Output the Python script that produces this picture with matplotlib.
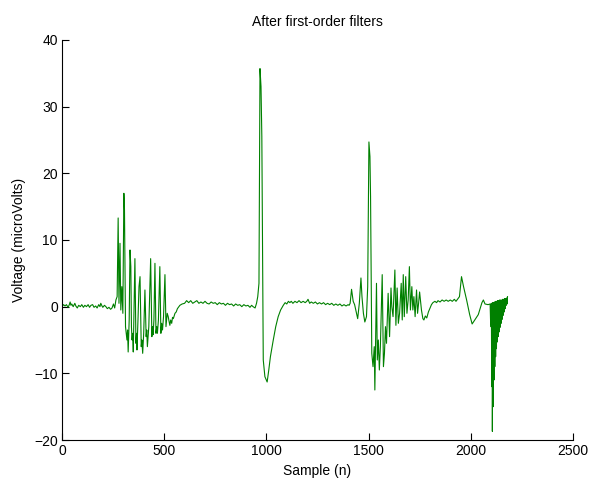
import numpy as np
import matplotlib
matplotlib.use("Agg")
import matplotlib.pyplot as plt

# Signal, one segment at a time: (sample, microvolts)
quiet_start = [
    (0, 0.0), (8, 0.3), (15, 0.1), (22, 0.3), (30, -0.1), (36, 0.3), (40, 0.7),
    (44, 0.2), (48, 0.4), (55, 0.0), (63, 0.5), (68, 0.1), (75, -0.2), (82, 0.2),
    (90, 0.0), (97, 0.3), (105, -0.1), (112, 0.2), (120, 0.0), (128, 0.3),
    (135, -0.1), (142, 0.2), (150, 0.3), (157, -0.1), (165, 0.1), (172, -0.2),
    (180, 0.3), (186, 0.0), (190, 0.5), (196, 0.1), (200, -0.1), (208, 0.2),
    (215, 0.0), (222, -0.3), (230, -0.1), (238, -0.4), (245, -0.2),
    (252, 0.4), (258, -0.2), (264, 1.0), (270, 1.5),
]

burst_1 = [
    (275, 13.3), (279, 0.5), (284, 9.5), (288, -0.5), (293, 3.0), (298, -1.0),
    (303, 17.0), (306, 14.5), (311, -3.0), (318, -5.0), (321, -3.5), (324, -6.8),
    (329, -2.0), (333, 8.5), (337, 6.0), (340, -3.0), (343, -5.0), (346, -4.0),
    (349, -6.8), (357, 7.2), (362, -5.5), (365, -4.0), (367, -6.5), (372, -2.0),
    (377, 3.0), (382, 4.5), (388, -6.0), (391, -5.0), (395, -7.0), (400, -4.0),
    (406, 2.5), (412, -4.5), (415, -3.5), (418, -6.0), (425, -3.0), (434, 7.2),
    (440, -4.5), (443, -3.0), (446, -4.2), (450, -2.0), (455, 6.5), (460, -4.0),
    (464, -3.0), (467, -4.0), (472, -2.0), (479, 6.0), (484, -4.0), (488, -2.5),
    (492, -3.5), (497, -1.5), (504, 4.8), (509, -3.0), (515, -1.0), (520, -1.5),
    (524, -2.2), (528, -2.8), (532, -2.0), (537, -2.5), (541, -1.6), (545, -1.8),
    (553, -1.0), (559, -0.8), (565, -0.3),
]

quiet_middle = [
    (577, 0.2), (588, 0.4), (600, 0.5), (610, 0.9), (620, 0.6), (630, 0.9),
    (640, 0.5), (650, 0.7), (660, 0.9), (670, 0.5), (680, 0.7), (690, 0.5),
    (700, 0.8), (710, 0.5), (720, 0.4), (730, 0.7), (740, 0.5), (750, 0.6),
    (760, 0.3), (770, 0.6), (780, 0.4), (790, 0.5), (800, 0.2), (810, 0.5),
    (820, 0.3), (830, 0.4), (840, 0.1), (850, 0.4), (860, 0.2), (870, 0.3),
    (880, 0.0), (890, 0.3), (900, 0.1), (910, 0.2), (920, -0.1), (928, 0.2),
    (935, 0.0), (945, -0.2), (952, 0.5), (958, 1.5), (964, 3.5),
]

spike_2 = [
    (969, 35.7), (974, 33.0), (978, 25.5), (985, -8.0), (993, -10.5),
    (1004, -11.3), (1012, -9.5), (1020, -7.5), (1034, -5.0), (1046, -3.0),
    (1058, -1.5), (1070, -0.5), (1083, 0.2), (1092, 0.6), (1100, 0.4),
    (1108, 0.8), (1115, 0.6), (1122, 0.8), (1130, 0.5), (1140, 0.8),
    (1150, 0.6), (1160, 0.9), (1170, 0.6), (1180, 0.8), (1190, 0.6),
    (1198, 0.8), (1204, 1.1), (1212, 0.5), (1220, 0.7), (1230, 0.5),
    (1240, 0.7), (1250, 0.4), (1260, 0.6), (1270, 0.4), (1280, 0.6),
    (1290, 0.3), (1300, 0.5), (1310, 0.3), (1320, 0.5), (1330, 0.2),
    (1340, 0.4), (1350, 0.2), (1360, 0.4), (1370, 0.1), (1380, 0.3),
    (1390, 0.1), (1400, 0.3), (1405, 0.2),
]

burst_3 = [
    (1410, 0.5), (1417, 2.6), (1425, 0.8), (1432, 0.3), (1447, -1.8),
    (1455, 0.5), (1463, 4.3), (1468, 1.5), (1475, -1.0), (1482, -2.3),
    (1490, -1.5), (1496, 3.0), (1502, 24.7), (1507, 22.5), (1510, 16.5),
    (1516, -7.0), (1522, -9.0), (1528, -6.0), (1531, -12.5), (1535, -4.0),
    (1539, 3.5), (1543, -8.0), (1548, -5.0), (1553, -9.5), (1558, -6.0),
    (1567, 4.8), (1573, -9.0), (1578, -7.0), (1583, -3.0), (1588, -5.5),
    (1596, 2.0), (1603, -4.5), (1610, 2.8), (1614, 0.0), (1620, -1.5),
    (1629, 5.5), (1634, -2.8), (1640, 2.8), (1646, -2.5), (1652, -1.0),
    (1660, 3.5), (1665, -2.0), (1670, 4.8), (1675, -1.5), (1682, 4.5),
    (1688, -1.0), (1694, 1.0), (1700, 6.0), (1705, -0.5), (1712, 3.0),
    (1717, -0.5), (1722, 1.5), (1728, -1.5), (1735, 2.5), (1740, -1.0),
    (1745, 0.5), (1750, 2.2), (1759, -0.5), (1766, -1.8), (1771, -2.0),
    (1778, -1.4), (1785, -1.7), (1793, -0.8), (1800, -0.3), (1808, 0.3),
    (1815, 0.6),
]

quiet_end = [
    (1825, 0.8), (1833, 0.6), (1840, 0.9), (1850, 0.7), (1860, 1.0),
    (1870, 0.8), (1880, 1.0), (1890, 0.8), (1900, 1.0), (1910, 0.8),
    (1920, 1.1), (1928, 0.8), (1935, 1.1), (1945, 1.5), (1955, 4.5),
    (1965, 3.0), (1980, 1.0), (1995, -1.2), (2007, -2.6), (2020, -2.0),
    (2037, -1.2), (2055, 0.6), (2062, 1.0), (2070, 0.4), (2085, 0.3),
    (2095, 0.4),
]

# dense ringing at the end: alternating upper / lower swings
ringing_n = [2098, 2101, 2103, 2105, 2106, 2108, 2110, 2112, 2114, 2116, 2118,
             2120, 2122, 2124, 2126, 2128, 2130, 2132, 2134, 2136, 2139, 2141,
             2144, 2146, 2149, 2151, 2154, 2156, 2159, 2161, 2164, 2166, 2169,
             2171, 2174, 2176, 2178, 2180]
ringing_v = [-3.0, 0.5, -12.0, 0.5, -18.7, 0.6, -15.0, 0.6, -11.0, 0.7, -9.0,
             0.7, -7.5, 0.8, -6.3, 0.8, -5.3, 0.9, -4.5, 0.9, -3.8, 1.0,
             -3.1, 1.0, -2.5, 1.0, -1.9, 1.1, -1.3, 1.1, -0.8, 1.2, -0.3,
             1.2, 0.2, 1.3, 0.4, 1.5]

x_ticks = [0, 500, 1000, 1500, 2000, 2500]
y_ticks = [-20, -10, 0, 10, 20, 30, 40]

segments = quiet_start + burst_1 + quiet_middle + spike_2 + burst_3 + quiet_end
samples = [p[0] for p in segments] + ringing_n
volts = [p[1] for p in segments] + ringing_v

plt.rcParams["font.family"] = ["Liberation Sans", "DejaVu Sans"]

fig = plt.figure(figsize=(5.9, 4.87), dpi=100)
ax = fig.add_axes([0.105, 0.0965, 0.866, 0.8215])

ax.plot(samples, volts, color=(0, 0.5, 0), linewidth=0.8)

ax.set_xlim(0, 2500)
ax.set_ylim(-20, 40)
ax.set_xticks(x_ticks)
ax.set_yticks(y_ticks)
ax.tick_params(direction="in", length=5, width=0.8, labelsize=10, pad=3)
for side in ["top", "right"]:
    ax.spines[side].set_visible(False)
for side in ["left", "bottom"]:
    ax.spines[side].set_linewidth(0.8)

ax.set_title("After first-order filters", fontsize=10, pad=10)
ax.set_xlabel("Sample (n)", fontsize=10, labelpad=4)
ax.set_ylabel("Voltage (microVolts)", fontsize=10, labelpad=6)

fig.savefig("out.png", dpi=100)
